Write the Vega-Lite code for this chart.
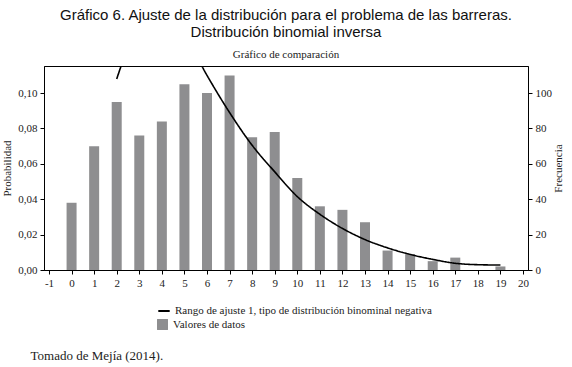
{
  "$schema": "https://vega.github.io/schema/vega-lite/v6.json",
  "autosize": "none",
  "width": 484,
  "height": 204,
  "padding": {"left": 44, "top": 66, "right": 44, "bottom": 97},
  "background": "white",
  "config": {
    "view": {"stroke": "black", "strokeWidth": 1},
    "axis": {"labelFont": "Liberation Serif", "titleFont": "Liberation Serif", "labelColor": "#222", "titleColor": "#222", "labelFontSize": 11, "titleFontSize": 11, "titleFontWeight": "normal", "grid": false, "domainColor": "black", "tickColor": "black", "tickSize": 4},
    "legend": {"labelFont": "Liberation Serif", "labelFontSize": 11, "labelColor": "#222", "labelLimit": 0}
  },
  "title": {
    "text": ["Gráfico 6. Ajuste de la distribución para el problema de las barreras.", "Distribución binomial inversa"],
    "subtitle": "Gráfico de comparación",
    "font": "Liberation Sans",
    "fontSize": 15,
    "fontWeight": "normal",
    "color": "#111",
    "lineHeight": 17,
    "subtitleFont": "Liberation Serif",
    "subtitleFontSize": 11,
    "subtitleColor": "#222",
    "subtitlePadding": 9,
    "anchor": "middle",
    "offset": 6
  },
  "datasets": {
    "barras": [
      {"x": 0, "frec": 38}, {"x": 1, "frec": 70}, {"x": 2, "frec": 95}, {"x": 3, "frec": 76},
      {"x": 4, "frec": 84}, {"x": 5, "frec": 105}, {"x": 6, "frec": 100}, {"x": 7, "frec": 110},
      {"x": 8, "frec": 75}, {"x": 9, "frec": 78}, {"x": 10, "frec": 52}, {"x": 11, "frec": 36},
      {"x": 12, "frec": 34}, {"x": 13, "frec": 27}, {"x": 14, "frec": 11}, {"x": 15, "frec": 9},
      {"x": 16, "frec": 5}, {"x": 17, "frec": 7}, {"x": 18, "frec": 0}, {"x": 19, "frec": 2}
    ],
    "curva": [
      {"x": 2, "p": 0.108}, {"x": 3, "p": 0.138}, {"x": 4, "p": 0.145}, {"x": 5, "p": 0.133},
      {"x": 6, "p": 0.110}, {"x": 7, "p": 0.089}, {"x": 8, "p": 0.0705}, {"x": 9, "p": 0.0555},
      {"x": 10, "p": 0.0415}, {"x": 11, "p": 0.0315}, {"x": 12, "p": 0.0235}, {"x": 13, "p": 0.0172},
      {"x": 14, "p": 0.0125}, {"x": 15, "p": 0.0088}, {"x": 16, "p": 0.006}, {"x": 17, "p": 0.0038},
      {"x": 18, "p": 0.003}, {"x": 19, "p": 0.0028}
    ]
  },
  "encoding": {
    "x": {
      "field": "x", "type": "quantitative",
      "scale": {"domain": [-1, 20], "nice": false, "zero": false},
      "axis": {"values": [-1,0,1,2,3,4,5,6,7,8,9,10,11,12,13,14,15,16,17,18,19,20], "labelExpr": "'' + datum.value", "labelOverlap": false, "labelFlush": false, "labelPadding": 3,
               "title": "Tomado de Mejía (2014).", "titleFontSize": 13, "titleAnchor": "start", "titleAlign": "left", "titleX": -14, "titleY": 89, "titleBaseline": "alphabetic"}
    }
  },
  "layer": [
    {
      "data": {"name": "barras"},
      "transform": [{"calculate": "'Valores de datos'", "as": "serie"}],
      "mark": {"type": "bar", "size": 10, "clip": true},
      "encoding": {
        "y": {
          "field": "frec", "type": "quantitative",
          "scale": {"domain": [0, 115.3], "nice": false},
          "axis": {"orient": "right", "values": [0,20,40,60,80,100], "title": "Frecuencia", "titleAngle": -90, "titlePadding": 12, "labelPadding": 3}
        },
        "color": {
          "field": "serie", "type": "nominal",
          "scale": {"domain": ["Valores de datos"], "range": ["#8e8e90"]},
          "legend": {"title": null, "orient": "none", "legendX": 113, "legendY": 253, "symbolType": "square", "symbolSize": 120, "labelOffset": 5, "symbolStrokeWidth": 0}
        }
      }
    },
    {
      "data": {"name": "curva"},
      "transform": [{"calculate": "'Rango de ajuste 1, tipo de distribución binominal negativa'", "as": "ajuste"}],
      "mark": {"type": "line", "color": "black", "strokeWidth": 1.6, "interpolate": "monotone", "clip": true},
      "encoding": {
        "y": {
          "field": "p", "type": "quantitative",
          "scale": {"domain": [0, 0.1153], "nice": false},
          "axis": {"orient": "left", "values": [0,0.02,0.04,0.06,0.08,0.1], "format": ".2f", "labelExpr": "replace(datum.label, '.', ',')", "title": "Probabilidad", "titlePadding": 5, "labelPadding": 3}
        },
        "strokeDash": {
          "field": "ajuste", "type": "nominal",
          "scale": {"range": [[1, 0]]},
          "legend": {"title": null, "orient": "none", "legendX": 113, "legendY": 238, "symbolType": "stroke", "symbolStrokeColor": "black", "symbolStrokeWidth": 2, "symbolSize": 130, "labelOffset": 4}
        }
      }
    }
  ],
  "resolve": {"scale": {"y": "independent", "color": "independent", "strokeDash": "independent"}, "legend": {"color": "independent", "strokeDash": "independent"}}
}
